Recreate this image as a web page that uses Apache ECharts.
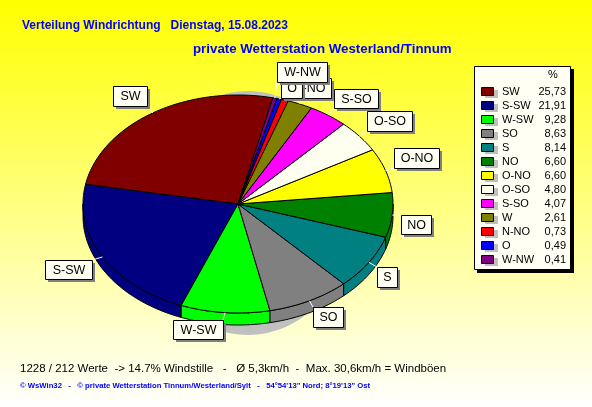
<!DOCTYPE html>
<html><head><meta charset="utf-8">
<style>html,body{margin:0;padding:0;background:#fff}#c{width:592px;height:407px}</style>
<script src="https://cdn.jsdelivr.net/npm/echarts@6/dist/echarts.min.js"></script>
</head><body><div id="c"></div>
<script>
const directions = ['SW','S-SW','W-SW','SO','S','NO','O-NO','O-SO','S-SO','W','N-NO','O','W-NW'];
const percents = [25.73,21.91,9.28,8.63,8.14,6.60,6.60,4.80,4.07,2.61,0.73,0.49,0.41];
const percentLabels = ['25,73','21,91','9,28','8,63','8,14','6,60','6,60','4,80','4,07','2,61','0,73','0,49','0,41'];
const colors = ['#800000','#000080','#00ff00','#808080','#008080','#008000','#ffff00','#fffff0','#ff00ff','#808000','#ff0000','#0000ff','#800080'];
const labelBoxes = {SW:[113,86,34,20],'S-SW':[45,260,47,19],'W-SW':[173,320,50,19],SO:[313,307,30,20],S:[377,267,20,20],NO:[401,215,30,19],'O-NO':[394,148,45,20],'O-SO':[367,111,45,20],'S-SO':[334,89,44,19],W:[292,78,24,20],'N-NO':[287,78,44,20],O:[281,78,21,20],'W-NW':[277,62,50,20]};

const cx=238, cy=204, rx=155, ry=109, depth=12, startDeg=77;
const total=percents.reduce((a,b)=>a+b,0);
function pt(t,dy){const a=t*Math.PI/180;return [cx+rx*Math.cos(a),cy-ry*Math.sin(a)+(dy||0)];}
function arc(t0,t1,dy){const n=Math.max(2,Math.ceil(Math.abs(t1-t0)/1.5));const p=[];for(let i=0;i<=n;i++)p.push(pt(t0+(t1-t0)*i/n,dy));return p;}
// slice angles: going clockwise from the top the legend order runs backwards
const angles=[];let cur=startDeg;
for(let i=percents.length-1;i>=0;i--){const sweep=percents[i]/total*360;angles[i]=[cur,cur-sweep];cur-=sweep;}

function wallItem(i){
  const [a,b]=angles[i];
  const s=Math.max(b,-180), e=Math.min(a,0);
  if(s>=e) return {type:'group',children:[]};
  return {type:'polygon',shape:{points:arc(e,s,0).concat(arc(s,e,depth))},style:{fill:colors[i],stroke:'#000',lineWidth:1}};
}
const shadow=[];for(let d=0;d<360;d+=3){const a=d*Math.PI/180;shadow.push([248+105*Math.cos(a),213+122*Math.sin(a)]);}
const option={
  backgroundColor:{type:'linear',x:0,y:0,x2:0,y2:1,colorStops:[{offset:0,color:'#ffff00'},{offset:1,color:'#ffffff'}]},
  animation:false,
  series:[{
    type:'custom',coordinateSystem:'none',silent:true,data:[0],z:1,
    renderItem(){return {type:'polygon',shape:{points:shadow},style:{fill:'#c0c0c0'}};}
  },{
    type:'custom',coordinateSystem:'none',silent:true,data:percents,z:2,
    renderItem(p){return wallItem(p.dataIndex);}
  },{
    type:'custom',coordinateSystem:'none',silent:true,data:percents,z:3,
    renderItem(p){
      const i=p.dataIndex;const [a,b]=angles[i];
      return {type:'polygon',shape:{points:[[cx,cy]].concat(arc(a,b,0))},style:{fill:colors[i],stroke:'#000',lineWidth:1}};
    }
  }],
  graphic:{elements:[]}
};
const g=option.graphic.elements;
const txt=(x,y,text,font,fill,align,z)=>g.push({type:'text',x,y,z:z||60,silent:true,style:{text,font,fill:fill||'#000',align:align||'left',verticalAlign:'middle'}});
const rect=(x,y,w,h,fill,stroke,z)=>g.push({type:'rect',z:z||10,silent:true,shape:{x,y,width:w,height:h},style:{fill,stroke:stroke||null,lineWidth:1}});
txt(22,26,'Verteilung Windrichtung   Dienstag, 15.08.2023','bold 12px "Liberation Sans"','#0000ff');
txt(193,49,'private Wetterstation Westerland/Tinnum','bold 13.3px "Liberation Sans"','#0000ff');
txt(20,369,'1228 / 212 Werte  -> 14.7% Windstille   -   Ø 5,3km/h  -  Max. 30,6km/h = Windböen','11.5px "Liberation Sans"','#000');
txt(20,386,'© WsWin32   -   © private Wetterstation Tinnum/Westerland/Sylt   -   54°54\'13" Nord; 8°19\'13" Ost','bold 7.7px "Liberation Sans"','#0000ff');
// legend
rect(477,69,97,204,'#000',null,50);
rect(474.5,66.5,96,203,'#fffff4','#000',51);
txt(553,75,'%','11px "Liberation Sans"','#000','center');
directions.forEach((d,i)=>{
  const y=92+i*14;
  rect(485,y-2,13,8,'#c0c0c0',null,52);
  rect(481.5,y-4.5,12,8,colors[i],'#000',53);
  txt(502,y,d,'11px "Liberation Sans"');
  txt(566,y,percentLabels[i],'11px "Liberation Sans"','#000','right');
});
// slice labels, drawn in legend order so later boxes cover earlier ones
directions.forEach((d,i)=>{
  const [x,y,w,h]=labelBoxes[d];
  const [a,b]=angles[i];const m=pt((a+b)/2,0);
  const ex=Math.min(Math.max(m[0],x),x+w), ey=Math.min(Math.max(m[1],y),y+h);
  const z=10+i*2;
  g.push({type:'line',z:9,silent:true,shape:{x1:m[0],y1:m[1],x2:ex,y2:ey},style:{stroke:'#fffff4',lineWidth:1}});
  rect(x+3,y+3,w,h,'#808080',null,z);
  rect(x+.5,y+.5,w,h,'#fffff4','#000',z+.5);
  txt(x+w/2+.5,y+h/2+1,d,'12.5px "Liberation Sans"','#000','center',z+1);
});
echarts.init(document.getElementById('c'),null,{renderer:'canvas'}).setOption(option);
</script></body></html>
